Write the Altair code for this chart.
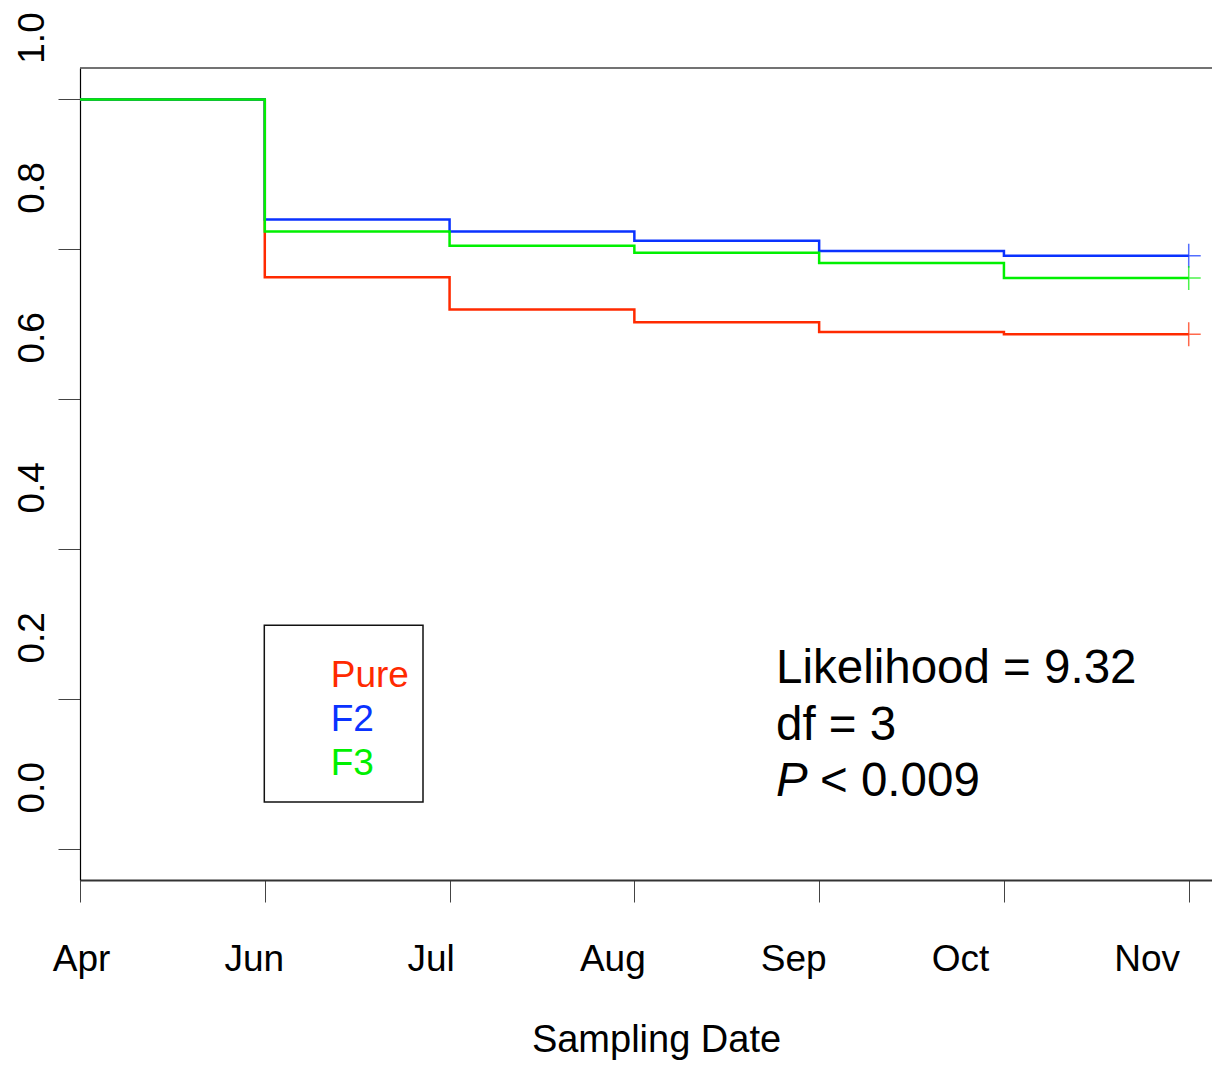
import altair as alt
import pandas as pd

# ---- data ----
months = ["Apr", "Jun", "Jul", "Aug", "Sep", "Oct", "Nov"]
groups = ["Pure", "F2", "F3"]
pure = [1.0, 0.763, 0.720, 0.703, 0.690, 0.687]
f2 = [1.0, 0.840, 0.824, 0.8115, 0.798, 0.7915]
f3 = [1.0, 0.824, 0.805, 0.7955, 0.782, 0.762]
y_ticks = [0.0, 0.2, 0.4, 0.6, 0.8, 1.0]
stats_lines = ["Likelihood = 9.32", "df = 3"]
p_italic = "P"
p_rest = "< 0.009"
x_title = "Sampling Date"

# ---- styles ----
colors = ["#FF2A00", "#0A32FF", "#00F000"]
FONT = "Liberation Sans"
W, H = 1132, 812
x_label_shift = [1, -11, -19, -22, -26, -44, -42]

rows = []
cens = []
for g, vals in zip(groups, [pure, f2, f3]):
    for i, v in enumerate(vals):
        rows.append({"group": g, "x": i, "s": v})
    rows.append({"group": g, "x": len(vals), "s": vals[-1]})
    cens.append({"group": g, "x": len(vals), "s": vals[-1]})
df = pd.DataFrame(rows)
dfc = pd.DataFrame(cens)

color_scale = alt.Scale(domain=groups, range=colors)
x_scale = alt.Scale(domain=[0, 6.126], nice=False, zero=False)
y_scale = alt.Scale(domain=[-0.041, 1.042], nice=False, zero=False)

label_expr = "[" + ",".join("'%s'" % m for m in months) + "][datum.value]"
x_axis = alt.Axis(
    values=list(range(len(months))),
    labelExpr=label_expr,
    labelFont=FONT, labelFontSize=37, labelColor="#000",
    labelBaseline="alphabetic", labelAlign="center",
    labelPadding=68, labelFlush=False, labelOverlap=False,
    labelOffset={"condition": [{"test": "datum.value == %d" % i, "value": o}
                               for i, o in enumerate(x_label_shift)], "value": 0},
    tickSize=22, tickColor="#444", tickWidth=1,
    domainColor="#333", domainWidth=2,
    grid=False,
    title=x_title, titleFont=FONT, titleFontSize=38, titleFontWeight="normal",
    titleColor="#000", titleX=576, titleY=171, titleBaseline="alphabetic",
    titleAlign="center",
)
y_axis = alt.Axis(
    values=y_ticks, format=".1f",
    labelFont=FONT, labelFontSize=37, labelColor="#000",
    labelAngle=270, labelAlign="center", labelBaseline="alphabetic",
    labelOffset=-62, labelPadding=15, labelFlush=False, labelOverlap=False,
    tickSize=22, tickColor="#444", tickWidth=1,
    domainColor="#000", domainWidth=1.2,
    grid=False, title=None,
)

lines = alt.Chart(df).mark_line(interpolate="step-after", strokeWidth=2.5).encode(
    x=alt.X("x:Q", scale=x_scale, axis=x_axis),
    y=alt.Y("s:Q", scale=y_scale, axis=y_axis),
    color=alt.Color("group:N", scale=color_scale, legend=None),
    order=alt.Order("x:Q"),
)

censor = alt.Chart(dfc).mark_point(
    shape="M-1,0L1,0M0,-1L0,1", size=576, filled=False, strokeWidth=1.5, opacity=0.7
).encode(
    x=alt.X("x:Q", scale=x_scale),
    y=alt.Y("s:Q", scale=y_scale),
    color=alt.Color("group:N", scale=color_scale, legend=None),
)

one = pd.DataFrame({"a": [0]})

legend_box = alt.Chart(one).mark_rect(fill="white", fillOpacity=0, stroke="#111", strokeWidth=1.5).encode(
    x=alt.value(184.3), x2=alt.value(343), y=alt.value(557.3), y2=alt.value(734)
)

layers = [lines, censor, legend_box]
leg_y = [619, 663, 707]
for g, c, yy in zip(groups, colors, leg_y):
    layers.append(
        alt.Chart(one).mark_text(text=g, font=FONT, fontSize=37, align="left",
                                 baseline="alphabetic", color=c)
        .encode(x=alt.value(250.7), y=alt.value(yy))
    )

stat_y = [615, 672]
for t, yy in zip(stats_lines, stat_y):
    layers.append(
        alt.Chart(one).mark_text(text=t, font=FONT, fontSize=47.5, align="left",
                                 baseline="alphabetic", color="#000")
        .encode(x=alt.value(696), y=alt.value(yy))
    )
layers.append(
    alt.Chart(one).mark_text(text=p_italic, font=FONT, fontSize=47.5, fontStyle="italic",
                             align="left", baseline="alphabetic", color="#000")
    .encode(x=alt.value(696), y=alt.value(728))
)
layers.append(
    alt.Chart(one).mark_text(text=p_rest, font=FONT, fontSize=47.5, align="left",
                             baseline="alphabetic", color="#000")
    .encode(x=alt.value(740), y=alt.value(728))
)

top_border = alt.Chart(one).mark_rule(color="#444", strokeWidth=1.5).encode(
    x=alt.value(0), x2=alt.value(W), y=alt.value(0)
)
layers.append(top_border)

chart = alt.layer(*layers).properties(
    width=W, height=H,
    autosize=alt.AutoSizeParams(type="none"),
    padding={"left": 72, "top": 60, "right": 0, "bottom": 180},
).configure_view(strokeWidth=0)

chart.save("out.html", embed_options={"renderer": "svg", "actions": False})
